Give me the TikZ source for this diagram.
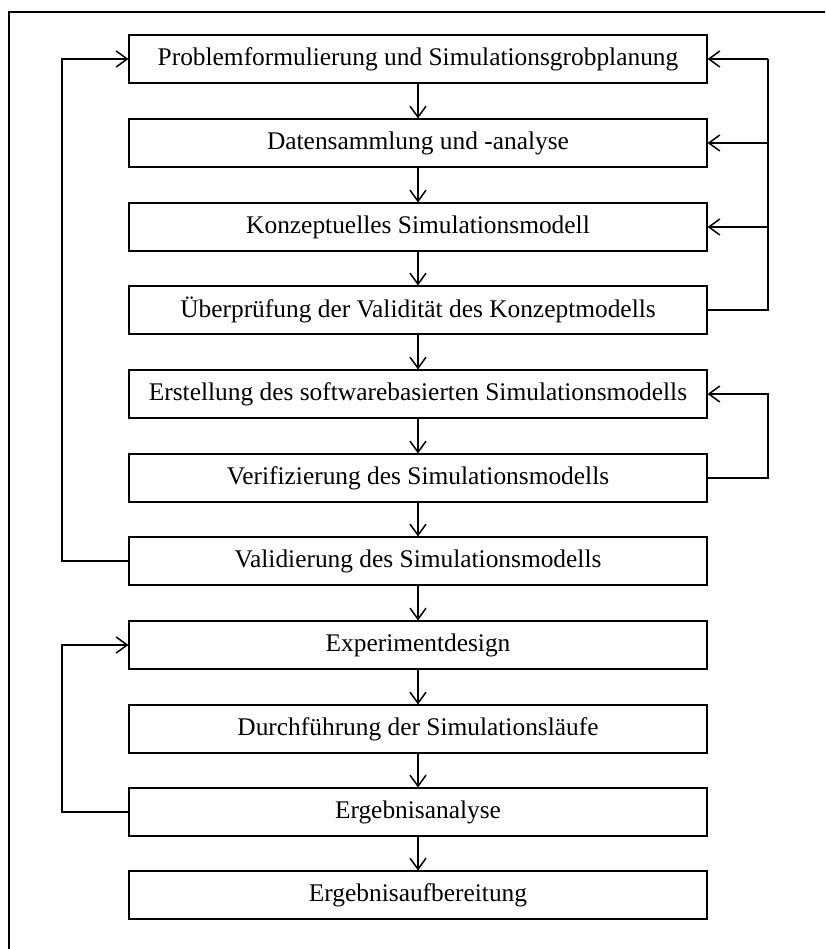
\documentclass[tikz,border=0pt]{standalone}
\usepackage{fontspec}
\setmainfont{Liberation Serif}
\usetikzlibrary{arrows.meta}
\begin{document}
\begin{tikzpicture}[x=1pt,y=-1pt,
  stepbox/.style={draw,line width=1.1pt,minimum width=578pt,minimum height=48pt,
    inner sep=0pt,font=\fontsize{25.4}{30}\selectfont},
  flow/.style={line width=1.5pt,-{Straight Barb[length=11pt,width=16pt,line width=1.5pt]}},
  loop/.style={line width=1.5pt}]
\useasboundingbox (0,0) rectangle (825,949);
% frame
\draw[line width=1.3pt] (825,12) -- (9,12) -- (9,949);
% process steps
\node[stepbox] (s1)  at (418,59)  {Problemformulierung und Simulationsgrobplanung};
\node[stepbox] (s2)  at (418,143) {Datensammlung und -analyse};
\node[stepbox] (s3)  at (418,227) {Konzeptuelles Simulationsmodell};
\node[stepbox] (s4)  at (418,310) {Überprüfung der Validität des Konzeptmodells};
\node[stepbox] (s5)  at (418,394) {Erstellung des softwarebasierten Simulationsmodells};
\node[stepbox] (s6)  at (418,478) {Verifizierung des Simulationsmodells};
\node[stepbox] (s7)  at (418,561) {Validierung des Simulationsmodells};
\node[stepbox] (s8)  at (418,645) {Experimentdesign};
\node[stepbox] (s9)  at (418,729) {Durchführung der Simulationsläufe};
\node[stepbox] (s10) at (418,812) {Ergebnisanalyse};
\node[stepbox] (s11) at (418,895) {Ergebnisaufbereitung};
% main sequence
\foreach \a/\b in {s1/s2,s2/s3,s3/s4,s4/s5,s5/s6,s6/s7,s7/s8,s8/s9,s9/s10,s10/s11}
  \draw[flow] (\a.south) -- (\b.north);
% feedback loops, left side
\coordinate (L1) at (62,561);
\coordinate (L2) at (62,812);
\draw[flow] (s7.west) -- (L1) |- (s1.west);
\draw[flow] (s10.west) -- (L2) |- (s8.west);
% feedback loops, right side
\coordinate (R1) at (768,310);
\coordinate (R2) at (768,478);
\draw[loop] (s4.east) -- (R1) -- (R1 |- s1.east);
\draw[flow] (R1 |- s1.east) -- (s1.east);
\draw[flow] (R1 |- s2.east) -- (s2.east);
\draw[flow] (R1 |- s3.east) -- (s3.east);
\draw[flow] (s6.east) -- (R2) |- (s5.east);
\end{tikzpicture}
\end{document}
